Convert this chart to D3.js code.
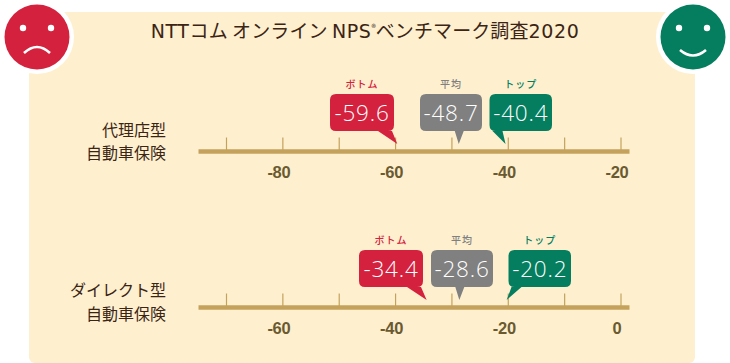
<!DOCTYPE html>
<html>
<head>
<meta charset="utf-8">
<script src="https://cdn.jsdelivr.net/npm/d3@7"></script>
<style>
  html, body { margin: 0; padding: 0; background: #fff; }
  svg { display: block; }
  text { font-family: "Noto Sans CJK JP", "Noto Sans", sans-serif; }
</style>
</head>
<body>
<div id="chart"></div>
<script>
/* chart values */
var titleParts = ["NTT", "コム オンライン ", "NPS", "®", "ベンチマーク調査", "2020"];
var categories = [["代理店型", "自動車保険"], ["ダイレクト型", "自動車保険"]];
var seriesNames = ["ボトム", "平均", "トップ"];
var agencyValues = [-59.6, -48.7, -40.4];
var directValues = [-34.4, -28.6, -20.2];
var agencyDomain = [-90, -20];
var directDomain = [-70, 0];
var agencyTicks = [-90, -80, -70, -60, -50, -40, -30, -20];
var directTicks = [-70, -60, -50, -40, -30, -20, -10, 0];
var agencyLabels = [-80, -60, -40, -20];
var directLabels = [-60, -40, -20, 0];

/* layout */
var width = 730, height = 363;
var seriesColors = ["#d4213d", "#808080", "#047e5e"];
var axisColor = "#c4a25c", inkColor = "#3b2414", tickTextColor = "#6b5a30";
var plotLeft = 226, plotRight = 620.5, lineLeft = 198.5, lineRight = 629.5;
var boxHeight = 37, boxTop = -57.5;
// left edge of each callout box, per panel
var boxLeft = [[330, 420, 489.5], [359, 431, 508.5]];
var boxWidth = [64, 62, 62.5];

var svg = d3.select("#chart").append("svg")
    .attr("width", width)
    .attr("height", height);

svg.append("rect")
    .attr("x", 29).attr("y", 12)
    .attr("width", 666).attr("height", 351)
    .attr("rx", 6)
    .attr("fill", "#fef0cf");

// title mixes a wide latin face with the japanese one
var titleText = svg.append("text")
    .attr("x", 365).attr("y", 37.5)
    .attr("text-anchor", "middle")
    .attr("font-size", 19)
    .attr("fill", inkColor);
titleParts.forEach(function (part, i) {
    var span = titleText.append("tspan").text(part);
    if (i === 0 || i === 2 || i === 5) {
        span.style("font-family", "'DejaVu Sans', sans-serif").attr("letter-spacing", 0.6);
    } else if (i === 3) {
        span.attr("font-size", 9).attr("dy", -7);
    } else {
        span.attr("letter-spacing", 0.1);
    }
    if (i === 4) span.attr("dy", 7);
});

function drawFace(cx, color, smile) {
    var face = svg.append("g").attr("transform", "translate(" + cx + ",37)");
    face.append("circle").attr("r", 37).attr("fill", "#fff");
    face.append("circle").attr("r", 32.5).attr("fill", color);
    [-14, 14].forEach(function (dx) {
        face.append("circle").attr("cx", dx).attr("cy", -9).attr("r", 3.2).attr("fill", "#fff");
    });
    face.append("path")
        .attr("d", smile ? "M-13,13 Q0,24 13,13" : "M-13,16 Q0,4 13,16")
        .attr("fill", "none")
        .attr("stroke", "#fff")
        .attr("stroke-width", 2.6);
}
drawFace(37, seriesColors[0], false);
drawFace(693, seriesColors[2], true);

// rounded box with a tail leaving its bottom edge
function calloutPath(left, right, top, bottom, tipX, tipY, baseLeft, baseRight) {
    var r = 6, p = d3.path();
    p.moveTo(left + r, top);
    p.lineTo(right - r, top);
    p.quadraticCurveTo(right, top, right, top + r);
    p.lineTo(right, bottom - r);
    p.quadraticCurveTo(right, bottom, right - r, bottom);
    p.lineTo(baseRight, bottom);
    p.lineTo(tipX, tipY);
    p.lineTo(baseLeft, bottom);
    p.lineTo(left + r, bottom);
    p.quadraticCurveTo(left, bottom, left, bottom - r);
    p.lineTo(left, top + r);
    p.quadraticCurveTo(left, top, left + r, top);
    p.closePath();
    return p.toString();
}

function drawPanel(axisY, names, values, domain, ticks, labels, lefts) {
    var xScale = d3.scaleLinear().domain(domain).range([plotLeft, plotRight]);
    var panel = svg.append("g").attr("transform", "translate(0," + axisY + ")");

    // tick marks stand on top of the line
    var tickAxis = d3.axisTop(xScale)
        .tickValues(ticks)
        .tickSize(14)
        .tickFormat("");
    var tickGroup = panel.append("g").call(tickAxis);
    tickGroup.select(".domain").remove();
    tickGroup.selectAll("line").attr("stroke", axisColor).attr("stroke-width", 1.2);

    panel.append("line")
        .attr("x1", lineLeft).attr("x2", lineRight)
        .attr("y1", 0).attr("y2", 0)
        .attr("stroke", axisColor)
        .attr("stroke-width", 4.5);

    var labelAxis = d3.axisBottom(xScale)
        .tickValues(labels)
        .tickSize(0)
        .tickPadding(15)
        .tickFormat(function (d) { return d; });
    var labelGroup = panel.append("g").call(labelAxis);
    labelGroup.select(".domain").remove();
    labelGroup.selectAll("text")
        .attr("dx", -4)
        .attr("fill", tickTextColor)
        .style("font-family", "'Liberation Sans', Arial, sans-serif")
        .style("font-weight", "bold")
        .style("font-size", "16.5px")
        .style("letter-spacing", "-0.3px");

    values.forEach(function (v, i) {
        var left = lefts[i], right = left + boxWidth[i];
        var bottom = boxTop + boxHeight, tipX = xScale(v), tipY = -7.5;
        var base = i === 0 ? [right - 16, right - 2]
                 : i === 1 ? [tipX - 4, tipX + 5]
                 : [left + 3, left + 13];

        panel.append("path")
            .attr("d", calloutPath(left, right, boxTop, bottom, tipX, tipY, base[0], base[1]))
            .attr("fill", seriesColors[i]);

        panel.append("text")
            .attr("x", (left + right) / 2)
            .attr("y", boxTop + 26.5)
            .attr("text-anchor", "middle")
            .attr("font-size", 22.5)
            .attr("font-weight", 300)
            .attr("letter-spacing", 0.8)
            .attr("fill", "#fff")
            .style("font-family", "'Open Sans', sans-serif")
            .text(v.toFixed(1));

        panel.append("text")
            .attr("x", (left + right) / 2)
            .attr("y", boxTop - 6)
            .attr("text-anchor", "middle")
            .attr("font-size", 10)
            .attr("font-weight", 500)
            .attr("letter-spacing", 1)
            .attr("fill", seriesColors[i])
            .text(names[i]);
    });
}

drawPanel(151.5, seriesNames, agencyValues, agencyDomain, agencyTicks, agencyLabels, boxLeft[0]);
drawPanel(307.5, seriesNames, directValues, directDomain, directTicks, directLabels, boxLeft[1]);

// category labels
[[136, 159], [296, 320]].forEach(function (ys, c) {
    categories[c].forEach(function (line, j) {
        svg.append("text")
            .attr("x", 166).attr("y", ys[j])
            .attr("text-anchor", "end")
            .attr("font-size", 16)
            .attr("fill", inkColor)
            .text(line);
    });
});
</script>
</body>
</html>
